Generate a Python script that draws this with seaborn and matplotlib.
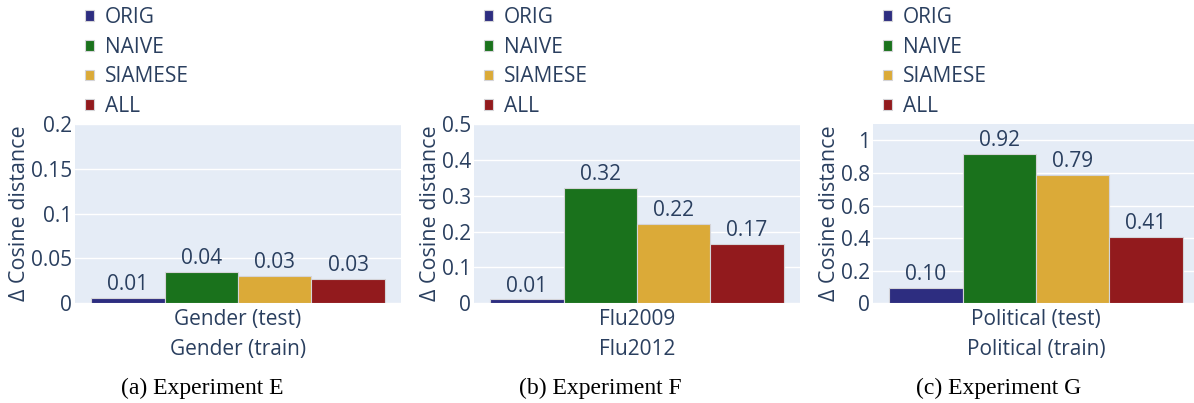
import matplotlib
matplotlib.use("Agg")
import matplotlib.pyplot as plt
import seaborn as sns
import pandas as pd

methods = ["ORIG", "NAIVE", "SIAMESE", "ALL"]
colors = ["#2d2d80", "#1a721c", "#dbaa38", "#921a1d"]

exp_e_vals = [0.006, 0.035, 0.031, 0.027]
exp_f_vals = [0.011, 0.321, 0.221, 0.166]
exp_g_vals = [0.095, 0.918, 0.788, 0.408]

exp_e_label = "Gender (test)\nGender (train)"
exp_f_label = "Flu2009\nFlu2012"
exp_g_label = "Political (test)\nPolitical (train)"

captions = ["(a) Experiment E", "(b) Experiment F", "(c) Experiment G"]
ylims = [0.2, 0.5, 1.1]
yticks = [[0, 0.05, 0.1, 0.15, 0.2], [0, 0.1, 0.2, 0.3, 0.4, 0.5], [0, 0.2, 0.4, 0.6, 0.8, 1.0]]
yticklabels = [["0", "0.05", "0.1", "0.15", "0.2"],
               ["0", "0.1", "0.2", "0.3", "0.4", "0.5"],
               ["0", "0.2", "0.4", "0.6", "0.8", "1"]]

panels = [(exp_e_vals, exp_e_label), (exp_f_vals, exp_f_label), (exp_g_vals, exp_g_label)]

sns.set_style("white")
plt.rcParams["font.family"] = ["Open Sans", "DejaVu Sans"]
TXT = "#2a3f5f"
BG = "#e5ecf6"
FS = 15

W, H = 1194, 403
fig = plt.figure(figsize=(W / 100, H / 100), dpi=100)

lefts = [75, 474, 873]
ax_w = 326
ax_top, ax_bot = 124, 303.3

for i, ((vals, xl), left) in enumerate(zip(panels, lefts)):
    ax = fig.add_axes([left / W, (H - ax_bot) / H, ax_w / W, (ax_bot - ax_top) / H])
    df = pd.DataFrame({"cat": [xl] * 4, "method": methods, "value": vals})
    sns.barplot(data=df, x="cat", y="value", hue="method", hue_order=methods,
                palette=colors, width=0.9, ax=ax, edgecolor="#d4d4d8", linewidth=0.8,
                saturation=1)
    ax.set_facecolor(BG)
    for s in ax.spines.values():
        s.set_visible(False)
    ax.set_xlim(-0.5, 0.5)
    ax.set_ylim(0, ylims[i])
    ax.set_yticks(yticks[i])
    ax.set_yticklabels(yticklabels[i])
    ax.grid(axis="y", color="white", linewidth=1)
    ax.set_axisbelow(True)
    ax.tick_params(axis="y", length=0, labelsize=FS, labelcolor=TXT, pad=2)
    ax.tick_params(axis="x", length=0, labelsize=FS, labelcolor=TXT, pad=4)
    for lab in ax.get_xticklabels():
        lab.set_linespacing(1.55)
    ax.set_xlabel("")
    ax.set_ylabel("Δ Cosine distance", fontsize=15.5, color=TXT, labelpad=1)
    for c in ax.containers:
        ax.bar_label(c, labels=[f"{v:.2f}" for v in c.datavalues], padding=2,
                     fontsize=FS, color=TXT)
    leg = ax.get_legend()
    handles = leg.legend_handles
    leg.remove()
    ax.legend(handles=handles, labels=methods, loc="upper left",
              bbox_to_anchor=(10 / ax_w, 1 + (ax_top - 7) / (ax_bot - ax_top)),
              frameon=False, fontsize=FS, labelcolor=TXT, handlelength=0.42,
              handleheight=0.42, handletextpad=0.55, labelspacing=0.42,
              borderpad=0, borderaxespad=0)
    fig.text((i + 0.5) / 3 + 0.003, 1 - 388 / H, captions[i], ha="center", va="center",
             fontsize=17, family="Liberation Serif", color="black")

fig.savefig("out.png", dpi=100)
